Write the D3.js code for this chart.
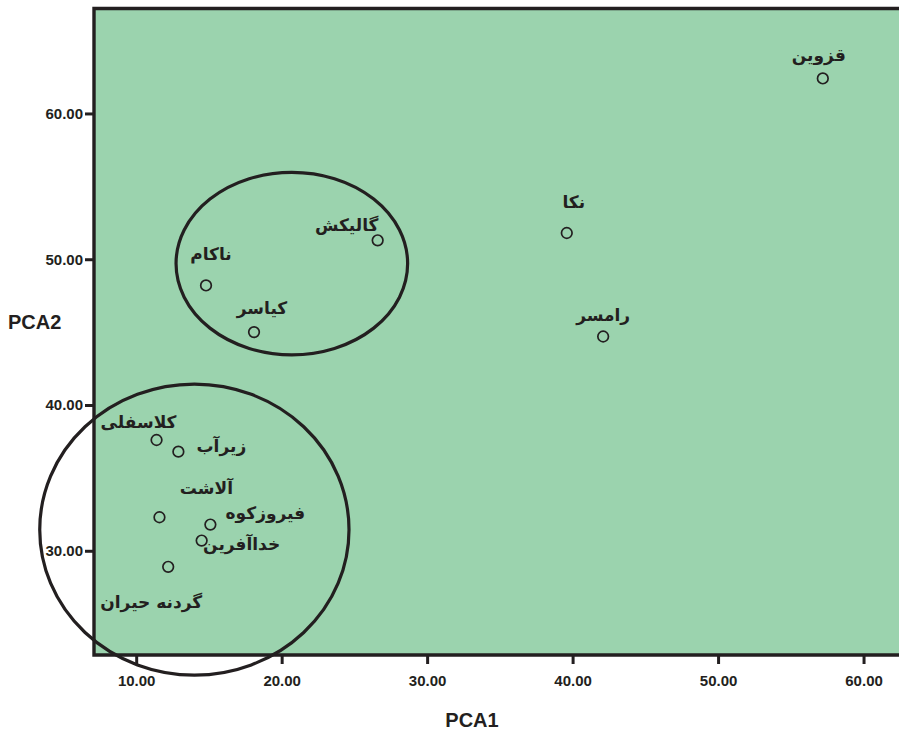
<!DOCTYPE html>
<html>
<head>
<meta charset="utf-8">
<script src="https://cdn.jsdelivr.net/npm/d3@7"></script>
<style>
  body { margin: 0; background: #fff; }
  text { font-family: "Liberation Sans", Arial, sans-serif; fill: #231f20; }
  .site { font-family: "DejaVu Sans", "Noto Sans", sans-serif; font-weight: bold; }
</style>
</head>
<body>
<svg id="chart" width="899" height="733"></svg>
<script>
//  data
const sites = ["قزوین", "نکا", "رامسر", "گالیکش", "ناکام", "کیاسر",
               "کلاسفلی", "زیرآب", "آلاشت", "فیروزکوه", "خداآفرین", "گردنه حیران"];
const pca1 = [57.2, 39.6, 42.1, 26.6, 14.8, 18.1, 11.4, 12.9, 11.6, 15.1, 14.5, 12.2];
const pca2 = [62.4, 51.8, 44.7, 51.3, 48.2, 45.0, 37.6, 36.8, 32.3, 31.8, 30.7, 28.9];

//  group ellipses (data units)
const groupCx = [20.7, 14.0];
const groupCy = [49.7, 31.45];
const groupRx = [7.96, 10.63];
const groupRy = [6.26, 9.98];

const xTicks = [10, 20, 30, 40, 50, 60];
const yTicks = [30, 40, 50, 60];

//  label placement relative to each point (px)
const labelDx = [-4, 7, 0, -31, 5, 8, -18, 43, 47, 55, 40, -17];
const labelDy = [-17, -25, -15, -9, -25, -18, -12, 0, -23, -6, 9, 41];

function draw_scatter() {
  const margin = ({top: 8.5, right: 2, bottom: 78, left: 94});
  const w = 899, h = 733;
  const svg = d3.select("#chart");

  const x = d3.scaleLinear().domain([7.1, 62.3]).range([margin.left, w - margin.right]);
  const y = d3.scaleLinear().domain([22.85, 67.2]).range([h - margin.bottom, margin.top]);

  //  plot background
  svg.append("rect")
    .attr("x", x(7.1))
    .attr("y", y(67.2))
    .attr("width", x(62.3) - x(7.1) + 2)
    .attr("height", y(22.85) - y(67.2))
    .attr("fill", "#9bd3ae");

  //  frame lines (left, top, bottom)
  svg.append("path")
    .attr("d", `M${w},${y(67.2)}H${x(7.1)}V${y(22.85)}H${w}`)
    .attr("fill", "none")
    .attr("stroke", "#231f20")
    .attr("stroke-width", 3.4);

  const xAxis = g => g
    .attr("transform", `translate(0,${y(22.85)})`)
    .call(d3.axisBottom(x).tickValues(xTicks).tickFormat(d3.format(".2f")).tickSize(9).tickPadding(11));

  const yAxis = g => g
    .attr("transform", `translate(${x(7.1)},0)`)
    .call(d3.axisLeft(y).tickValues(yTicks).tickFormat(d3.format(".2f")).tickSize(9).tickPadding(2));

  [xAxis, yAxis].forEach(a => {
    const g = svg.append("g").call(a);
    g.select(".domain").remove();
    g.selectAll(".tick line").attr("stroke", "#231f20").attr("stroke-width", 3);
    g.selectAll(".tick text")
      .style("font-family", "Liberation Sans, Arial, sans-serif")
      .style("font-size", "15px")
      .style("font-weight", "bold")
      .attr("fill", "#231f20");
  });

  //  axis titles
  svg.append("text")
    .attr("x", 472)
    .attr("y", 727)
    .attr("text-anchor", "middle")
    .style("font-size", "20px")
    .style("font-weight", "bold")
    .text("PCA1");

  svg.append("text")
    .attr("x", 8)
    .attr("y", 328.5)
    .style("font-size", "20px")
    .style("font-weight", "bold")
    .text("PCA2");

  //  points
  sites.forEach((s, i) => {
    svg.append("circle")
      .attr("cx", x(pca1[i]))
      .attr("cy", y(pca2[i]))
      .attr("r", 5.3)
      .attr("fill", "none")
      .attr("stroke", "#231f20")
      .attr("stroke-width", 1.7);

    svg.append("text")
      .attr("class", "site")
      .attr("x", x(pca1[i]) + labelDx[i])
      .attr("y", y(pca2[i]) + labelDy[i])
      .attr("text-anchor", "middle")
      .style("font-size", "17px")
      .text(s);
  });

  //  group ellipses
  groupCx.forEach((c, i) => {
    svg.append("ellipse")
      .attr("cx", x(c))
      .attr("cy", y(groupCy[i]))
      .attr("rx", x(c + groupRx[i]) - x(c))
      .attr("ry", y(groupCy[i] - groupRy[i]) - y(groupCy[i]))
      .attr("fill", "none")
      .attr("stroke", "#231f20")
      .attr("stroke-width", 3.2);
  });
}

draw_scatter();
</script>
</body>
</html>
